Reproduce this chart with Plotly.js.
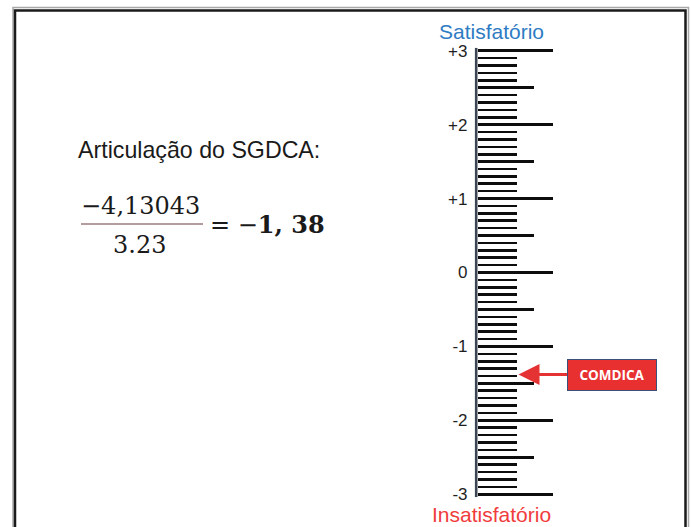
<!DOCTYPE html>
<html>
<head>
<meta charset="utf-8">
<script src="https://cdn.plot.ly/plotly-3.0.1.min.js"></script>
<style>html,body{margin:0;padding:0;background:#fff;}#chart{width:691px;height:527px;}</style>
</head>
<body>
<div id="chart"></div>
<script>
// ---- data ----
const scaleMin = -3;
const scaleMax = 3;
const yTickVals = [3, 2, 1, 0, -1, -2, -3];
const yTickText = ['+3', '+2', '+1', '0', '-1', '-2', '-3'];
const minorStep = 0.1;
const halfStep = 0.5;
const comdicaName = 'COMDICA';
const comdicaValue = -1.38;
const topLabel = 'Satisfatório';
const bottomLabel = 'Insatisfatório';
const heading = 'Articulação do SGDCA:';
const numerator = '−4,13043';
const denominator = '3.23';
const resultText = '1, 38';

// ---- helpers (pixel -> paper) ----
const W = 691, H = 527;
const px = x => x / W;
const py = y => 1 - y / H;

const axisX = 477.5;
const unitPx = (494.3 - 50.7) / (scaleMax - scaleMin);
const pad = 0.04;
const yTop = 50.7 - pad * unitPx, yBot = 494.3 + pad * unitPx;
const yDomain = [py(yBot), py(yTop)];
const yRange = [scaleMin - pad, scaleMax + pad];

const traces = [
  {x: [42], y: [comdicaValue], type: 'scatter', mode: 'markers', marker: {opacity: 0}, hoverinfo: 'skip', showlegend: false, xaxis: 'x', yaxis: 'y'},
  {x: [0], y: [0], type: 'scatter', mode: 'markers', marker: {opacity: 0}, hoverinfo: 'skip', showlegend: false, xaxis: 'x', yaxis: 'y2'}
];

const tickCol = '#0d0d0d';
const tw = 2.6;
const layout = {
  width: W, height: H,
  margin: {l: 0, r: 0, t: 0, b: 0, pad: 0},
  paper_bgcolor: '#ffffff', plot_bgcolor: 'rgba(0,0,0,0)',
  showlegend: false,
  xaxis: {domain: [px(axisX), 1], range: [0, W - axisX], showline: false, showticklabels: false, ticks: '',
          showgrid: false, zeroline: false, fixedrange: true},
  yaxis: {
    domain: yDomain, range: yRange, anchor: 'x', side: 'left',
    showline: false,
    ticks: 'inside', ticklen: 75, tickwidth: tw, tickcolor: tickCol,
    tickmode: 'array', tickvals: yTickVals, ticktext: yTickText,
    tickfont: {family: 'Liberation Sans, Arial, sans-serif', size: 17, color: '#1e1e1e'},
    ticklabelstandoff: 9,
    showgrid: false, zeroline: false, fixedrange: true,
    minor: {ticks: 'inside', tickmode: 'linear', tick0: 0, dtick: minorStep, ticklen: 39, tickwidth: tw, tickcolor: tickCol, showgrid: false}
  },
  yaxis2: {
    overlaying: 'y', anchor: 'x', side: 'left', range: yRange,
    showline: false, ticks: 'inside', tickmode: 'linear', tick0: 0, dtick: halfStep,
    ticklen: 56.5, tickwidth: tw, tickcolor: tickCol, showticklabels: false,
    showgrid: false, zeroline: false, fixedrange: true
  },
  shapes: [
    {type: 'rect', xref: 'paper', yref: 'paper', x0: px(13), x1: px(688.5), y0: py(7.5), y1: py(560), line: {color: '#a8a8a8', width: 1.5}},
    {type: 'rect', xref: 'paper', yref: 'paper', x0: px(15), x1: px(685.5), y0: py(10.5), y1: py(560), line: {color: '#1a1a1a', width: 2.5}},
    {type: 'line', xref: 'paper', yref: 'paper', x0: px(81), x1: px(203), y0: py(224), y1: py(224), line: {color: '#9c7c7c', width: 1.5}},
    // scale's vertical axis line, spanning the y scale
    {type: 'line', xref: 'paper', yref: 'y', x0: px(axisX - 1.3), x1: px(axisX - 1.3), y0: yRange[0], y1: yRange[1], line: {color: '#3c4652', width: 2.6}}
  ],
  annotations: [
    {xref: 'paper', yref: 'paper', x: px(491), y: py(31), text: topLabel, showarrow: false, xanchor: 'center', yanchor: 'middle',
     font: {family: 'Liberation Sans, Arial, sans-serif', size: 21, color: '#2E7CC4'}},
    {xref: 'paper', yref: 'paper', x: px(492), y: py(514), text: bottomLabel, showarrow: false, xanchor: 'center', yanchor: 'middle',
     font: {family: 'Liberation Sans, Arial, sans-serif', size: 21, color: '#F03C3C'}},
    {xref: 'paper', yref: 'paper', x: px(76), y: py(150), text: heading, showarrow: false, xanchor: 'left', yanchor: 'middle',
     font: {family: 'Liberation Sans, Arial, sans-serif', size: 23.2, color: '#1a1a1a'}},
    {xref: 'paper', yref: 'paper', x: px(140), y: py(206), text: numerator, showarrow: false, xanchor: 'center', yanchor: 'middle',
     font: {family: 'DejaVu Serif, serif', size: 24, color: '#1a1a1a'}},
    {xref: 'paper', yref: 'paper', x: px(139), y: py(245), text: denominator, showarrow: false, xanchor: 'center', yanchor: 'middle',
     font: {family: 'DejaVu Serif, serif', size: 24, color: '#1a1a1a'}},
    {xref: 'paper', yref: 'paper', x: px(208), y: py(224), text: '= −<b>' + resultText + '</b>', showarrow: false, xanchor: 'left', yanchor: 'middle',
     font: {family: 'DejaVu Serif, serif', size: 24, color: '#1a1a1a'}},
    {xref: 'x', yref: 'y', x: 41, y: comdicaValue, text: '<b>' + comdicaName + '</b>', showarrow: true,
     ax: 93, ay: 0, arrowhead: 2, arrowsize: 1.4, arrowwidth: 3, arrowcolor: '#E53333', standoff: 0,
     bgcolor: '#E83030', bordercolor: '#3b4f78', borderwidth: 1, width: 86, height: 28,
     font: {family: 'Open Sans, sans-serif', size: 13.5, color: '#ffffff'}}
  ]
};

Plotly.newPlot('chart', traces, layout, {staticPlot: true, displayModeBar: false});
</script>
</body>
</html>
